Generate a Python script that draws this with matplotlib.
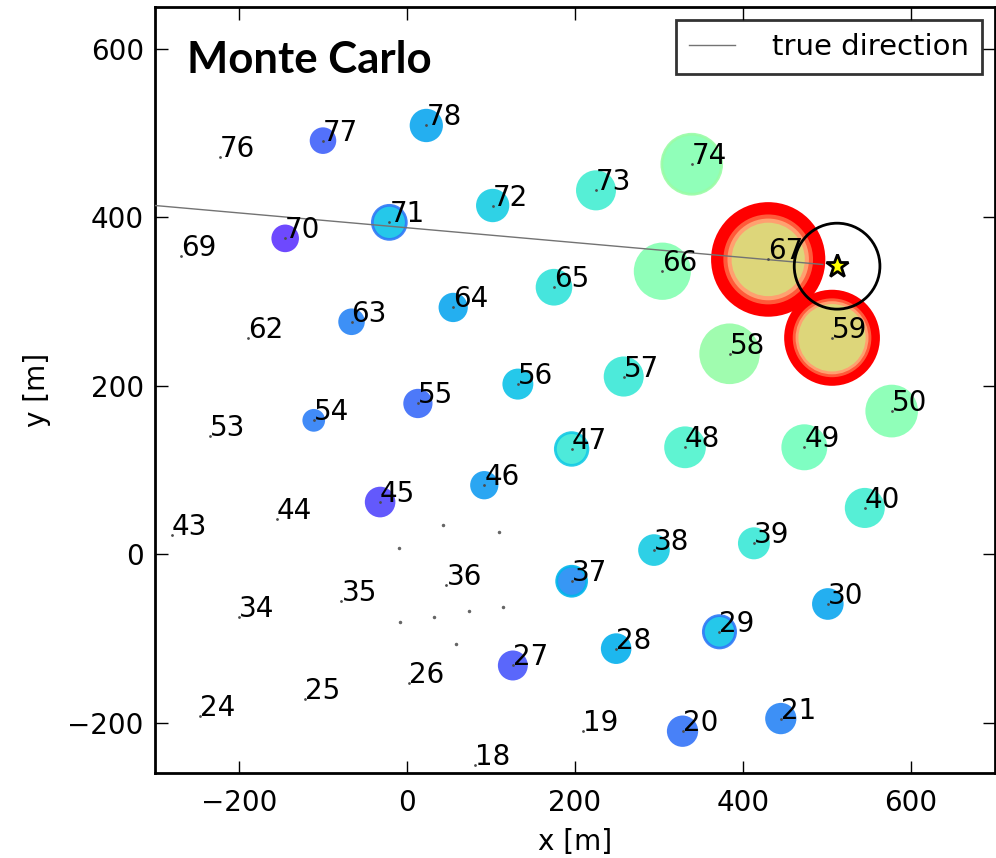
import numpy as np
import matplotlib
matplotlib.use("Agg")
import matplotlib.pyplot as plt
from matplotlib.patches import Circle

# station ids, positions [m]
ids = [18, 19, 20, 21, 24, 25, 26, 27, 28, 29, 30, 34, 35, 36, 37, 38,
       39, 40, 43, 44, 45, 46, 47, 48, 49, 50, 53, 54, 55, 56, 57, 58,
       59, 62, 63, 64, 65, 66, 67, 69, 70, 71, 72, 73, 74, 76, 77, 78]
xs = [81, 210, 328, 445, -246, -121, 2, 126, 249, 372, 501, -200, -78, 47, 196, 294,
      413, 545, -280, -155, -32, 92, 196, 331, 473, 577, -235, -111, 13, 132, 258, 384,
      506, -189, -66, 55, 175, 304, 430, -269, -145, -21, 102, 225, 339, -223, -100, 23]
ys = [-250, -210, -210, -195, -192, -172, -153, -132, -112, -92, -59, -75, -56, -37, -32, 5,
      13, 55, 23, 42, 62, 82, 125, 127, 127, 170, 140, 159, 179, 202, 211, 238,
      257, 257, 276, 293, 317, 336, 350, 354, 375, 394, 414, 432, 463, 471, 491, 509]
# signal circle radius [m] (0 = no signal)
radius = [0, 0, 18.6, 18.6, 0, 0, 0, 17.8, 18.2, 19.2, 18.8, 0, 0, 0, 17.8, 18.8,
          19.0, 23.8, 0, 0, 18.2, 16.8, 19.4, 24.8, 27.3, 31.3, 0, 13.5, 17.4, 18.4, 23.8, 36.0,
          40.0, 0, 15.8, 17.4, 21.8, 34.0, 43.6, 0, 16.4, 20.2, 19.8, 23.8, 35.6, 0, 15.8, 19.8]
# relative arrival time (colour)
t_rel = [0, 0, 0.15, 0.175, 0, 0, 0, 0.11, 0.243, 0.275, 0.227, 0, 0, 0, 0.185, 0.293,
         0.367, 0.385, 0, 0, 0.09, 0.213, 0.367, 0.40, 0.47, 0.508, 0, 0.165, 0.14, 0.275, 0.367, 0.543,
         0.68, 0, 0.175, 0.23, 0.35, 0.508, 0.68, 0, 0.07, 0.275, 0.30, 0.385, 0.508, 0, 0.125, 0.227]
# stations where MC realisations give a differently coloured rim
rim_ids = [71, 29, 47, 37, 74]
rim_t = [0.16, 0.16, 0.29, 0.25, 0.55]
# saturated stations and their outer radius
sat_ids = [67, 59]
sat_outer = [68, 57]

# stations without label
dot_x = [43, 109, -9, -8, 32, 74, 114, 58]
dot_y = [35, 27, 7, -80, -74, -67, -62, -106]

core_x, core_y, core_r = 512, 342, 51
dir_x = [-300, 495]
dir_y = [414, 344]

cmap = plt.get_cmap("rainbow")

fig = plt.figure(figsize=(9.96, 8.58), dpi=100)
ax = fig.add_axes([0.1556, 0.0987, 0.8434, 0.8935])

for i, sid in enumerate(ids):
    if sid in sat_ids:
        R = sat_outer[sat_ids.index(sid)]
        r = radius[i]
        ax.add_patch(Circle((xs[i], ys[i]), R, fc=cmap(1.0), ec="none", zorder=2))
        ax.add_patch(Circle((xs[i], ys[i]), r + 0.4 * (R - r), fc="#ff5a3a", ec="none", zorder=2))
        ax.add_patch(Circle((xs[i], ys[i]), r + 0.2 * (R - r), fc="#ffa070", ec="none", zorder=2))
        ax.add_patch(Circle((xs[i], ys[i]), r, fc=cmap(t_rel[i]), ec="none", zorder=2))
    elif radius[i] > 0:
        ec = "none"
        if sid in rim_ids:
            ec = cmap(rim_t[rim_ids.index(sid)])
        ax.add_patch(Circle((xs[i], ys[i]), radius[i], fc=cmap(t_rel[i]), ec=ec,
                            lw=2, alpha=0.9, zorder=2))
    ax.plot(xs[i], ys[i], ".", color="0.3", ms=2, zorder=4)
    ax.text(xs[i], ys[i], str(sid), fontsize=20, ha="left", va="baseline", zorder=5)

ax.plot(dot_x, dot_y, ".", color="0.4", ms=3, zorder=4)

ax.plot(dir_x, dir_y, "-", color="0.45", lw=1, label="true direction", zorder=3)
ax.add_patch(Circle((core_x, core_y), core_r, fc="none", ec="k", lw=2, zorder=6))
ax.plot(core_x, core_y, "*", ms=17, mfc="yellow", mec="k", mew=2, zorder=7)

ax.text(0.038, 0.914, "Monte Carlo", transform=ax.transAxes, fontsize=31.5,
        fontweight="bold", family="Lato", va="baseline", ha="left")

ax.set_xlim(-300, 700)
ax.set_ylim(-260, 650)
ax.set_xticks([-200, 0, 200, 400, 600])
ax.set_yticks([-200, 0, 200, 400, 600])
ax.tick_params(direction="in", length=9, width=1, top=True, right=True, labelsize=20)
ax.tick_params(axis="x", pad=11)
ax.tick_params(axis="y", pad=8)
for s in ax.spines.values():
    s.set_linewidth(2)
ax.set_xlabel("x [m]", fontsize=20, labelpad=8)
ax.set_ylabel("y [m]", fontsize=20, labelpad=12)

leg = ax.legend(loc="upper right", fontsize=21, fancybox=False, borderaxespad=0.45,
                handlelength=1.6, handletextpad=1.25, borderpad=0.45)
leg.get_frame().set_edgecolor("k")
leg.get_frame().set_linewidth(2)

fig.savefig("out.png", dpi=100)
